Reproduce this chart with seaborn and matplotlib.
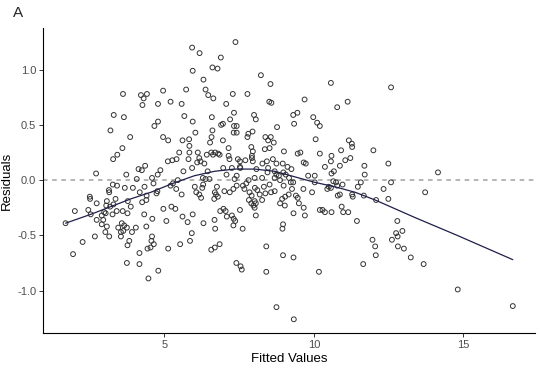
import numpy as np
import pandas as pd
import matplotlib
matplotlib.use("Agg")
import matplotlib.pyplot as plt
import seaborn as sns

# fitted values / residuals
fitted = [
    3.62, 4.22, 4.31, 4.42, 4.96, 5.21, 4.27, 4.79, 3.31, 3.65, 4.79, 4.67, 3.20,
    7.38, 5.93, 6.18, 6.89, 5.95, 6.61, 6.78, 8.23, 6.31, 8.55, 5.73, 6.38, 6.47,
    6.64, 7.29, 7.78, 5.58, 7.07, 8.51, 8.58, 7.33, 5.67, 6.59, 8.00, 8.06, 9.31,
    5.95, 7.20, 6.96, 6.90, 7.33, 7.42, 8.77, 9.34, 6.04, 6.61, 7.32, 7.42, 7.81, 7.95,
    10.57, 12.58, 9.69, 11.13, 10.78, 9.45, 9.98, 10.11, 10.20,
    3.86, 4.96, 5.13, 3.60, 3.43, 3.29, 5.12, 5.27, 4.14, 4.25, 4.36, 4.87, 4.78,
    2.72, 3.73, 4.08, 4.59, 4.64, 3.28, 3.42, 3.68, 3.95, 4.34, 5.21, 5.29, 3.15,
    3.16, 4.18, 4.41, 4.74, 4.77, 2.51, 2.52, 3.08, 3.37, 3.78, 4.26, 4.40, 2.74,
    3.06, 3.19, 3.30, 3.88, 2.46, 2.01, 2.99, 3.41, 3.61, 5.24, 4.97, 2.54, 2.91,
    3.04, 3.27, 3.77, 4.33, 2.96, 2.74, 4.60, 1.70, 2.91, 3.58, 3.66, 3.75, 3.46,
    3.08, 4.05, 4.40, 5.07, 3.03, 3.55, 3.63, 3.92,
    2.68, 3.16, 3.55, 2.27, 3.83, 3.77, 1.95, 4.59, 4.57, 4.65, 4.54, 4.44, 4.17,
    5.13, 3.75, 4.17, 4.80, 4.47,
    5.61, 5.83, 6.53, 6.58, 6.96, 7.78, 8.38, 8.47, 8.56, 8.66, 5.84, 5.50, 5.84,
    6.12, 6.57, 6.70, 6.80, 6.42, 6.63, 6.85, 7.15, 7.91, 7.96, 8.36, 8.52, 9.00,
    5.41, 5.81, 6.17, 6.21, 6.10, 6.34, 7.15, 7.18, 7.46, 7.53, 7.71, 7.93, 7.93,
    7.96, 8.28, 8.43, 8.63, 8.47, 8.75, 8.96, 9.12, 9.25, 7.53, 7.54, 7.26, 6.97,
    8.08, 5.64, 5.93, 6.45, 7.08, 7.42, 8.45, 8.69, 8.75, 8.83, 8.98, 9.06, 9.17,
    5.45, 6.29, 6.38, 6.51, 7.35, 7.82, 8.02, 8.27, 8.69, 8.87, 9.31, 6.30, 6.02,
    6.27, 5.40, 6.76, 7.42, 7.63, 7.74, 7.68, 7.31, 8.03, 8.33, 8.52, 8.99, 9.23,
    9.27, 5.58, 6.07, 6.17, 6.23, 6.69, 6.73, 6.79, 7.01, 7.19, 7.85, 7.92, 8.11,
    8.19, 8.38, 8.57, 8.69, 9.04, 9.16, 6.67, 7.83, 8.02, 8.27, 8.94, 7.91, 8.06,
    8.87, 9.03, 7.98, 8.02, 5.37, 7.05, 6.87, 6.98, 7.53, 9.32, 5.61, 5.95, 7.09,
    7.26, 7.32, 8.06, 5.78, 6.68, 7.37, 6.31, 7.31, 8.97, 8.95, 5.92, 6.70, 7.62,
    5.53, 5.86, 6.57, 6.69, 6.85, 7.41, 7.55, 7.59, 8.41, 8.41, 8.97, 9.32, 8.75, 9.33,
    10.06, 11.17, 11.27, 11.28, 9.46, 9.55, 10.20, 10.91, 11.99, 9.66, 9.73, 10.59,
    10.57, 11.05, 11.22, 10.37, 10.87, 11.69, 12.49, 10.67, 10.59, 11.70, 9.81,
    10.03, 10.03, 10.65, 10.74, 10.96, 11.57, 11.47, 12.58, 10.50, 10.57, 10.45,
    10.78, 9.65, 9.94, 12.33, 10.80, 10.87, 11.28, 11.30, 11.67, 12.08, 12.49,
    9.40, 9.46, 9.50, 10.93, 9.66, 10.20, 10.29, 10.37, 10.59, 10.98, 11.15, 9.70,
    11.44, 12.79, 12.96, 12.75,
    11.96, 12.05, 12.07, 11.65, 12.61, 12.80, 12.81, 13.01, 13.24, 10.17,
    14.15, 13.72, 13.67, 14.81, 16.65,
]
residuals = [
    0.78, 0.77, 0.74, 0.78, 0.81, 0.71, 0.68, 0.69, 0.59, 0.57, 0.53, 0.49, 0.45,
    1.25, 1.20, 1.15, 1.11, 0.99, 1.02, 1.01, 0.95, 0.91, 0.87, 0.82, 0.82, 0.77,
    0.74, 0.78, 0.78, 0.69, 0.69, 0.71, 0.70, 0.61, 0.58, 0.57, 0.59, 0.55, 0.59,
    0.53, 0.55, 0.51, 0.50, 0.49, 0.49, 0.48, 0.51, 0.43, 0.45, 0.43, 0.43, 0.42, 0.44,
    0.88, 0.84, 0.73, 0.71, 0.66, 0.61, 0.57, 0.52, 0.49,
    0.39, 0.39, 0.36, 0.29, 0.23, 0.19, 0.17, 0.18, 0.10, 0.09, 0.13, 0.09, 0.05,
    0.06, 0.05, 0.01, 0.02, -0.03, -0.04, -0.05, -0.07, -0.07, -0.06, -0.05, -0.03, -0.09,
    -0.11, -0.11, -0.14, -0.12, -0.10, -0.15, -0.17, -0.19, -0.17, -0.19, -0.20, -0.18, -0.21,
    -0.23, -0.24, -0.22, -0.24, -0.27, -0.28, -0.29, -0.28, -0.28, -0.24, -0.26, -0.31, -0.32,
    -0.30, -0.31, -0.30, -0.31, -0.36, -0.36, -0.35, -0.39, -0.40, -0.39, -0.41, -0.43, -0.43,
    -0.42, -0.43, -0.42, -0.37, -0.47, -0.47, -0.46, -0.47,
    -0.51, -0.51, -0.51, -0.56, -0.55, -0.59, -0.67, -0.51, -0.55, -0.58, -0.61, -0.62, -0.66,
    -0.62, -0.75, -0.76, -0.82, -0.89,
    0.36, 0.37, 0.34, 0.39, 0.36, 0.39, 0.39, 0.36, 0.39, 0.34, 0.31, 0.25, 0.25,
    0.25, 0.25, 0.25, 0.24, 0.23, 0.23, 0.23, 0.29, 0.30, 0.26, 0.28, 0.29, 0.26,
    0.19, 0.19, 0.20, 0.17, 0.16, 0.15, 0.22, 0.19, 0.19, 0.17, 0.18, 0.22, 0.20,
    0.17, 0.15, 0.17, 0.19, 0.11, 0.15, 0.15, 0.12, 0.10, 0.12, 0.11, 0.11, 0.11,
    0.10, 0.08, 0.11, 0.08, 0.05, 0.04, 0.07, 0.08, 0.05, 0.04, 0.07, 0.05, 0.02,
    0.00, 0.02, 0.01, 0.01, 0.01, 0.00, 0.02, 0.02, 0.02, 0.00, -0.02, -0.04, -0.06,
    -0.07, -0.08, -0.06, -0.05, -0.05, -0.03, -0.08, -0.08, -0.07, -0.06, -0.04, -0.05, -0.02,
    -0.08, -0.13, -0.11, -0.13, -0.16, -0.11, -0.13, -0.15, -0.10, -0.11, -0.11, -0.14, -0.09,
    -0.13, -0.12, -0.11, -0.10, -0.15, -0.13, -0.17, -0.18, -0.19, -0.18, -0.17, -0.21, -0.21,
    -0.21, -0.23, -0.23, -0.25, -0.26, -0.28, -0.28, -0.26, -0.27, -0.30, -0.33, -0.31, -0.33,
    -0.32, -0.35, -0.32, -0.38, -0.36, -0.37, -0.39, -0.41, -0.40, -0.44, -0.48, -0.44, -0.44,
    -0.58, -0.55, -0.63, -0.61, -0.58, -0.75, -0.78, -0.81, -0.60, -0.83, -0.68, -0.70, -1.15, -1.26,
    0.37, 0.36, 0.33, 0.30, 0.24, 0.25, 0.24, 0.27, 0.27, 0.16, 0.15, 0.22,
    0.17, 0.18, 0.20, 0.12, 0.13, 0.13, 0.15, 0.08, 0.06, 0.05, 0.04,
    0.04, -0.02, -0.01, -0.02, -0.04, -0.02, -0.06, -0.02, -0.06, -0.07, -0.08,
    -0.05, -0.08, -0.11, -0.08, -0.14, -0.13, -0.13, -0.15, -0.14, -0.18, -0.17,
    -0.14, -0.16, -0.21, -0.24, -0.25, -0.27, -0.27, -0.29, -0.29, -0.29, -0.29, -0.32,
    -0.37, -0.37, -0.46, -0.48,
    -0.54, -0.60, -0.68, -0.76, -0.54, -0.51, -0.60, -0.62, -0.70, -0.83,
    0.07, -0.11, -0.76, -0.99, -1.14,
]

# smoothed trend line
smooth_x = [1.70, 2.54, 3.21, 3.88, 4.55, 5.28, 6.01, 6.68, 7.35, 8.02, 8.69,
            9.36, 10.03, 10.70, 11.38, 12.05, 12.72, 13.39, 14.79, 16.65]
smooth_y = [-0.39, -0.31, -0.24, -0.17, -0.11, -0.03, 0.04, 0.08, 0.10, 0.10, 0.08,
            0.03, -0.02, -0.06, -0.11, -0.18, -0.26, -0.34, -0.50, -0.72]

df = pd.DataFrame({"fitted": fitted, "resid": residuals})
smooth = pd.DataFrame({"fitted": smooth_x, "resid": smooth_y})

sns.set_theme(style="ticks")
plt.rcParams["font.family"] = ["Liberation Sans", "DejaVu Sans"]

fig = plt.figure(figsize=(5.4, 3.71), dpi=100)
ax = fig.add_axes([0.080, 0.102, 0.911, 0.822])

ax.axhline(0, color="#a0a0a0", lw=1.1, ls=(0, (3, 3)), zorder=1)
sns.scatterplot(data=df, x="fitted", y="resid", ax=ax, marker="o", s=12,
                fc="none", ec="#333333", linewidth=0.7, zorder=3)
sns.lineplot(data=smooth, x="fitted", y="resid", ax=ax, color="#1f1f4a",
             lw=0.9, zorder=4)

# ggplot-like 5% padding
xr = df.fitted.max() - df.fitted.min()
yr = df.resid.max() - df.resid.min()
ax.set_xlim(df.fitted.min() - 0.05 * xr, df.fitted.max() + 0.05 * xr)
ax.set_ylim(df.resid.min() - 0.05 * yr, df.resid.max() + 0.05 * yr)

ax.set_xticks([5, 10, 15])
ax.set_yticks([-1.0, -0.5, 0.0, 0.5, 1.0])
ax.set_yticklabels(["-1.0", "-0.5", "0.0", "0.5", "1.0"])
ax.tick_params(labelsize=8, colors="#4d4d4d", length=3, width=0.7, pad=2)
ax.tick_params(axis="both", color="#333333")
for s in ["left", "bottom"]:
    ax.spines[s].set_linewidth(0.8)
    ax.spines[s].set_color("black")
sns.despine(ax=ax)

ax.set_xlabel("Fitted Values", fontsize=9.5, color="black", labelpad=2)
ax.set_ylabel("Residuals", fontsize=9.5, color="black", labelpad=3)
fig.text(0.024, 0.965, "A", fontsize=11, ha="left", va="center")

fig.savefig("out.png", dpi=100)
